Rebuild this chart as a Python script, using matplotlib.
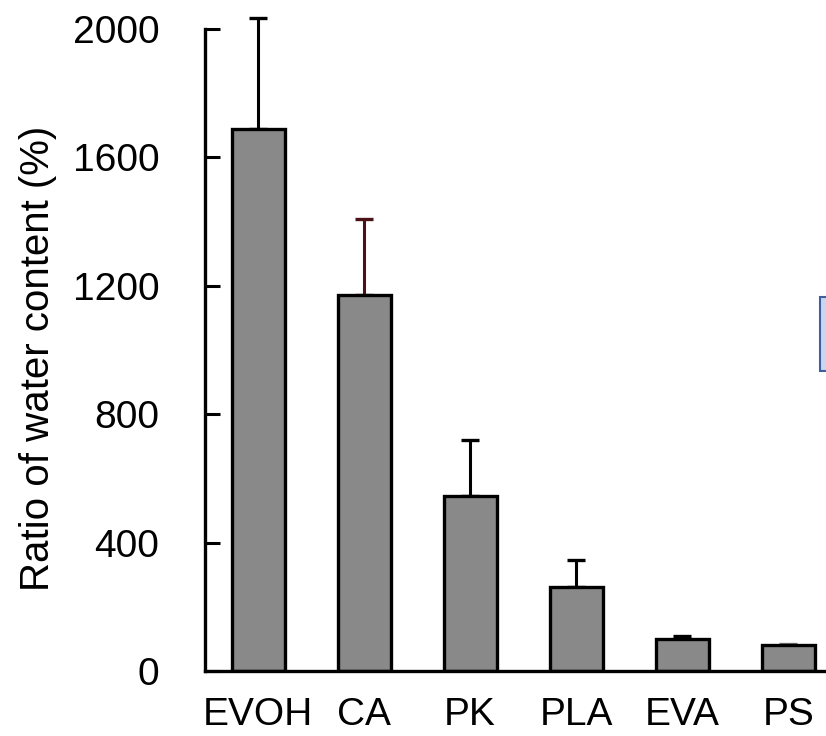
import matplotlib
matplotlib.use("Agg")
import matplotlib.pyplot as plt
import matplotlib.patches as patches
import numpy as np

plt.rcParams['font.family'] = ['Liberation Sans', 'DejaVu Sans']

materials = ['EVOH', 'CA', 'PK', 'PLA', 'EVA', 'PS']
water_ratio = [1688, 1171, 546, 262, 99, 80]
error_up = [346, 236, 174, 84, 11, 5]
err_colors = ['black', '#4a1216', 'black', 'black', 'black', '#777777']

fig = plt.figure(figsize=(8.26, 7.36), dpi=100)
ax = fig.add_axes([205/826, 65/736, 668/826, 642/736])

x = np.arange(len(materials))
ax.bar(x, water_ratio, width=0.5, color='#898989', edgecolor='black', linewidth=2.4, zorder=3)
for i in range(len(materials)):
    eb = ax.errorbar(x[i], water_ratio[i], yerr=[[0], [error_up[i]]], fmt='none',
                     ecolor=err_colors[i], elinewidth=2.2, capsize=6.8, capthick=2.4, zorder=2)
    for cap in eb[1]:
        cap.set_clip_on(False)
    for col in eb[2]:
        col.set_clip_on(False)

ax.set_xlim(-0.5, 5.8)
ax.set_ylim(0, 2000)
ax.set_yticks([0, 400, 800, 1200, 1600, 2000])
ax.set_xticks(x)
ax.set_xticklabels(materials)
ax.tick_params(axis='y', direction='in', length=11, width=2.2, pad=33, labelsize=28)
ax.tick_params(axis='x', length=0, pad=19, labelsize=28)
ax.spines['top'].set_visible(False)
ax.spines['right'].set_visible(False)
ax.spines['left'].set_linewidth(2.4)
ax.spines['bottom'].set_linewidth(2.4)
ax.spines['bottom'].set_zorder(4)

fig.text(38/826, 1 - 358/736, 'Ratio of water content (%)', rotation=90,
         ha='center', va='center', fontsize=29)

# cropped text box at right edge
fig.patches.append(patches.Rectangle((820/826, 1 - 371/736), 20/826, 74/736,
                                     transform=fig.transFigure, facecolor='#c9d6ef',
                                     edgecolor='#3f5f9e', linewidth=1.5))

fig.savefig('out.png', dpi=100)
